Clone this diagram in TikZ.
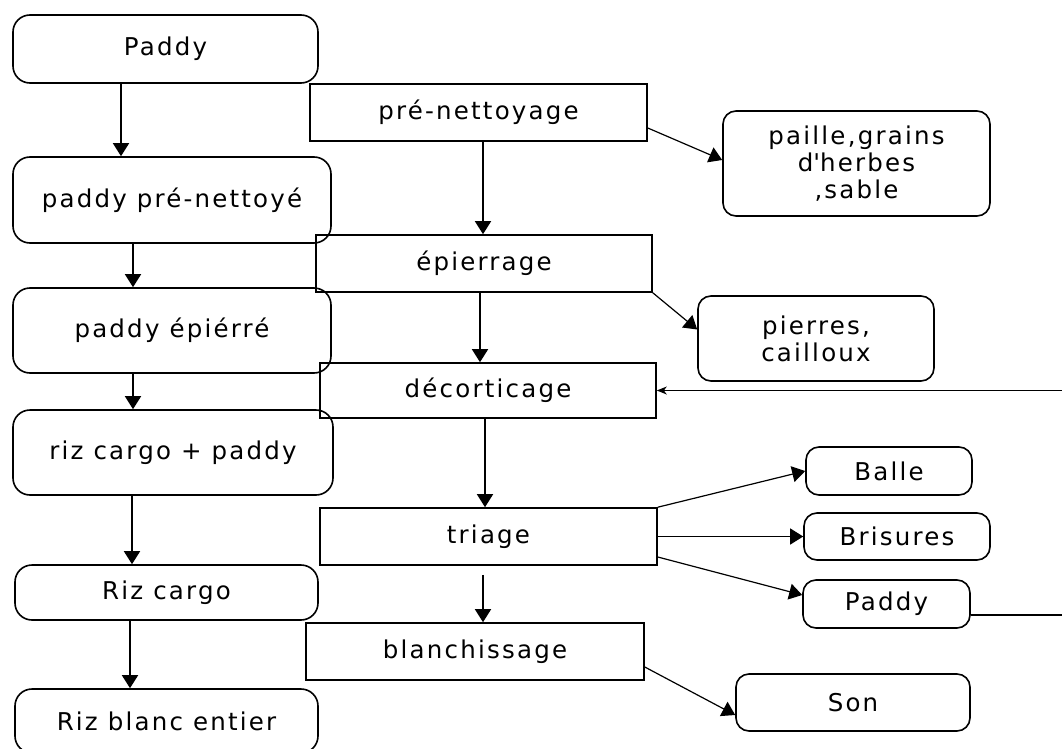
\documentclass[tikz,border=0pt]{standalone}
\usepackage{fontspec}
\setmainfont{DejaVu Sans}[LetterSpace=9]
\usetikzlibrary{arrows.meta}
\begin{document}
\begin{tikzpicture}[x=1pt,y=-1pt,
  base/.style={draw=black,line width=1.6pt,inner sep=0pt,align=center,font=\fontsize{24.5}{27}\selectfont},
  lbox/.style={base,rounded corners=17pt},
  rbox/.style={base,rounded corners=13pt},
  sbox/.style={base},
  arr/.style={line width=1.6pt,-{Triangle[length=13pt,width=16pt]}},
  fine/.style={line width=1.1pt},
  finearr/.style={line width=1.1pt,-{Stealth[length=10pt,width=8pt,inset=3pt]}}]
\useasboundingbox (0,0) rectangle (1062,749);
% left column
\node[lbox,minimum width=305pt,minimum height=68pt] (n1) at (165.5,49) {Paddy};
\node[lbox,minimum width=318pt,minimum height=86pt] (n2) at (172,200) {paddy pré-nettoyé};
\node[lbox,minimum width=318pt,minimum height=85pt] (n3) at (172,330.5) {paddy épiérré};
\node[lbox,minimum width=320pt,minimum height=85pt] (n4) at (173,452.5) {riz cargo + paddy};
\node[lbox,minimum width=303pt,minimum height=55pt] (n5) at (166.5,592.5) {Riz cargo};
\node[lbox,minimum width=303pt,minimum height=64pt] (n6) at (166.5,721) {Riz blanc entier};
% middle column
\node[sbox,minimum width=337pt,minimum height=57pt] (m1) at (478.5,112.5) {pré-nettoyage};
\node[sbox,minimum width=336pt,minimum height=57pt] (m2) at (484,263.5) {épierrage};
\node[sbox,minimum width=336pt,minimum height=55pt] (m3) at (488,390.5) {décorticage};
\node[sbox,minimum width=337pt,minimum height=57pt] (m4) at (488.5,536.5) {triage};
\node[sbox,minimum width=338pt,minimum height=57pt] (m5) at (475,651.5) {blanchissage};
% right column
\node[rbox,minimum width=267pt,minimum height=105pt] (r1) at (856.5,163.5) {paille,grains\\d\textquotesingle herbes\\,sable};
\node[rbox,minimum width=236pt,minimum height=85pt] (r2) at (816,338.5) {pierres,\\cailloux};
\node[rbox,minimum width=166pt,minimum height=48pt] (r3) at (889,471) {Balle};
\node[rbox,minimum width=186pt,minimum height=47pt] (r4) at (897,536.5) {Brisures};
\node[rbox,minimum width=167pt,minimum height=48pt] (r5) at (886.5,604) {Paddy};
\node[rbox,minimum width=234pt,minimum height=57pt] (r6) at (853,702.5) {Son};
\coordinate (fb1) at (1062,615);
\coordinate (fb2) at (1062,390.5);
% left arrows
\draw[arr] ([xshift=-44.5pt]n1.south) -- ([xshift=-44.5pt]n1.south |- n2.north);
\draw[arr] ([xshift=-39pt]n2.south) -- ([xshift=-39pt]n2.south |- n3.north);
\draw[arr] ([xshift=-39pt]n3.south) -- ([xshift=-39pt]n3.south |- n4.north);
\draw[arr] ([xshift=-41pt]n4.south) -- ([xshift=-41pt]n4.south |- n5.north);
\draw[arr] ([xshift=-36.5pt]n5.south) -- ([xshift=-36.5pt]n5.south |- n6.north);
% middle arrows
\draw[arr] ([xshift=4.5pt]m1.south) -- ([xshift=4.5pt]m1.south |- m2.north);
\draw[arr] ([xshift=-4pt]m2.south) -- ([xshift=-4pt]m2.south |- m3.north);
\draw[arr] ([xshift=-3pt]m3.south) -- ([xshift=-3pt]m3.south |- m4.north);
\draw[arr] ([xshift=-5.5pt,yshift=-9pt]m4.south) -- ([xshift=-5.5pt]m4.south |- m5.north);
% side arrows
\draw[arr,line width=1.2pt] ([yshift=-15.5pt]m1.east) -- ([yshift=3.5pt]r1.west);
\draw[arr,line width=1.2pt] (m2.south east) -- ([yshift=9pt]r2.west);
\draw[arr,line width=1.2pt] (m4.north east) -- (r3.west);
\draw[arr,line width=1.2pt] (m4.east) -- (r4.west);
\draw[arr,line width=1.2pt] ([yshift=-20.5pt]m4.east) -- ([yshift=9pt]r5.west);
\draw[arr,line width=1.2pt] ([yshift=-15.5pt]m5.east) -- ([yshift=-12.5pt]r6.west);
% feedback
\draw[fine] ([yshift=-11pt]r5.east) -- (fb1);
\draw[finearr] (fb2) -- (m3.east);
\end{tikzpicture}
\end{document}
